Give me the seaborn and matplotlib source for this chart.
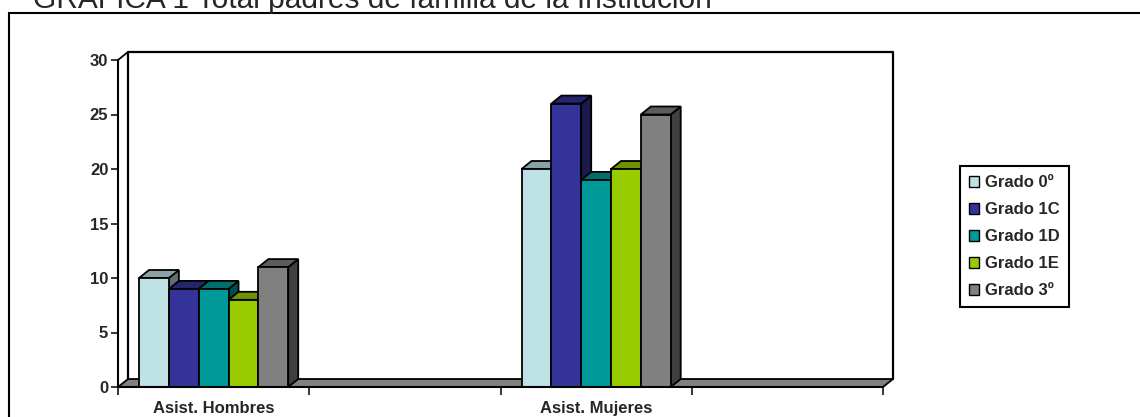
import numpy as np
import pandas as pd
import seaborn as sns
import matplotlib.pyplot as plt
from matplotlib.patches import Polygon, Patch, Rectangle
from matplotlib.colors import to_rgb

# values
categories = ["Asist. Hombres", "Asist. Mujeres"]
slots = ["Asist. Hombres", "slot2", "Asist. Mujeres", "slot4"]
grados = ["Grado 0º", "Grado 1C", "Grado 1D", "Grado 1E", "Grado 3º"]
hombres = [10, 9, 9, 8, 11]
mujeres = [20, 26, 19, 20, 25]
colors = ["#BDE1E5", "#333399", "#009999", "#99CC00", "#808080"]
title = "GRAFICA 1 Total padres de familia de la Institución"

data = pd.DataFrame({
    "categoria": [categories[0]] * 5 + [categories[1]] * 5,
    "grado": grados * 2,
    "valor": hombres + mujeres,
})

sns.set_style("white")
plt.rcParams["font.family"] = ["Liberation Sans", "DejaVu Sans"]

fig = plt.figure(figsize=(11.4, 4.17), dpi=100)
W, H = 1140, 417
# axes: front left x=118, front right x=883, y0 at 387, y30 at 60
ax = fig.add_axes([118 / W, (H - 387) / H, 765 / W, 327 / H])

sns.barplot(data=data, x="categoria", y="valor", hue="grado", order=slots,
            hue_order=grados, palette=colors, saturation=1, width=0.78, gap=0,
            edgecolor="black", linewidth=1.3, legend=False, ax=ax)

ax.set_xlim(-0.5, 3.5)
ax.set_ylim(0, 30)

# depth of the 3D effect in data units (10 px right, 8 px up)
dx = 10 / (765 / 4)
dy = 8 / (327 / 30)

xl, xr = -0.5, 3.5
# floor
floor = Polygon([(xl, 0), (xr, 0), (xr + dx, dy), (xl + dx, dy)], closed=True,
                facecolor="#808080", edgecolor="black", lw=1.3, zorder=1,
                clip_on=False)
ax.add_patch(floor)
# back wall
ax.plot([xl + dx, xl + dx, xr + dx, xr + dx], [dy, 30 + dy, 30 + dy, dy],
        color="black", lw=1.6, zorder=0.5, clip_on=False)
ax.plot([xl, xl + dx], [30, 30 + dy], color="black", lw=1.3, clip_on=False)

# 3D faces on each bar
bars = sorted([p for p in ax.patches if p is not floor and p.get_height() > 0],
              key=lambda p: p.get_x())
for k, p in enumerate(bars):
    x0 = p.get_x()
    x1 = x0 + p.get_width()
    h = p.get_height()
    base = np.array(to_rgb(p.get_facecolor()))
    top = Polygon([(x0, h), (x1, h), (x1 + dx, h + dy), (x0 + dx, h + dy)],
                  closed=True, facecolor=base * 0.72, edgecolor="black",
                  lw=1.3, zorder=3 + 2 * k, clip_on=False)
    side = Polygon([(x1, 0), (x1 + dx, dy), (x1 + dx, h + dy), (x1, h)],
                   closed=True, facecolor=base * 0.5, edgecolor="black",
                   lw=1.3, zorder=3 + 2 * k, clip_on=False)
    ax.add_patch(side)
    ax.add_patch(top)
    p.set_zorder(4 + 2 * k)

sns.despine(ax=ax, top=True, right=True)
for s in ["left", "bottom"]:
    ax.spines[s].set_linewidth(1.5)
    ax.spines[s].set_color("black")
    ax.spines[s].set_zorder(50)

ax.set_yticks(range(0, 31, 5))
ax.set_xticks([-0.5, 0.5, 1.5, 2.5, 3.5])
ax.set_xticklabels([])
ax.set_xticks([0, 2], minor=True)
ax.set_xticklabels(categories, minor=True, fontsize=12, fontweight="bold")
ax.tick_params(axis="x", which="minor", length=0, pad=10)
ax.tick_params(axis="x", which="major", length=6, width=1.3, direction="out",
               bottom=True)
ax.tick_params(axis="y", length=5, width=1.3, direction="out", left=True,
               labelsize=12, pad=2)
for t in ax.get_yticklabels():
    t.set_fontweight("bold")
ax.set_xlabel("")
ax.set_ylabel("")

# legend
handles = [Patch(facecolor=c, edgecolor="black", lw=1.0) for c in colors]
fig.legend(handles, grados, loc="upper left",
           bbox_to_anchor=(960 / W, 1 - 166 / H), frameon=True,
           fancybox=False, edgecolor="black", framealpha=1,
           prop={"weight": "bold", "size": 12}, handlelength=0.6,
           handleheight=0.6, handletextpad=0.35, labelspacing=0.72,
           borderpad=0.55, borderaxespad=0)
fig.legends[0].get_frame().set_linewidth(1.5)

# outer border and title (the title is cut at the top edge, as in the source)
fig.add_artist(Rectangle((9 / W, -0.2), 1.2, 1.2 - 13 / H, transform=fig.transFigure,
                         fill=False, edgecolor="black", lw=1.5))
fig.text(33 / W, 1 - 8 / H, title, fontsize=21.5, va="baseline", ha="left")

fig.savefig("out.png", dpi=100)
